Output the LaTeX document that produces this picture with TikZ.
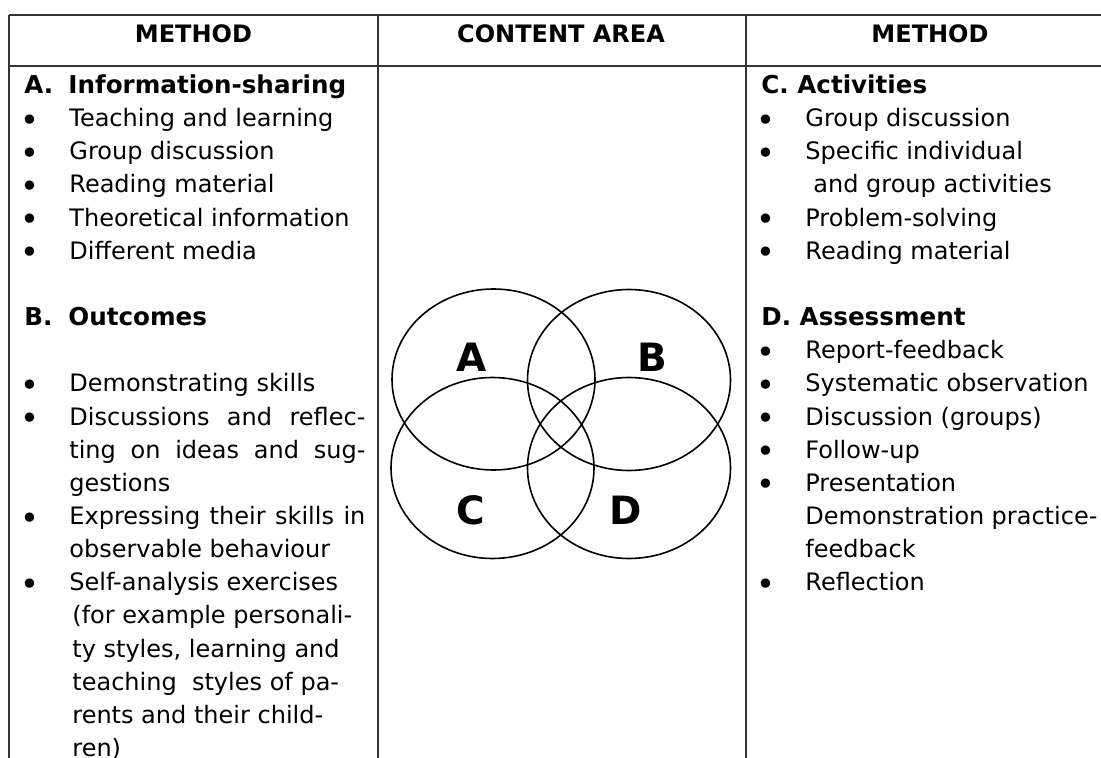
\documentclass[tikz,border=0pt]{standalone}
\usepackage{fontspec}
\setmainfont{DejaVu Sans}
\usetikzlibrary{positioning}

\begin{document}
\begin{tikzpicture}[x=0.5pt, y=-0.5pt,
  rule/.style={draw=black!80, line width=0.7pt},
  ring/.style={draw=black, line width=0.8pt},
  txt/.style={anchor=base west, inner sep=0pt, font=\fontsize{12}{14}\selectfont},
  topic/.style={anchor=base west, inner sep=0pt, font=\fontsize{12.3}{14}\selectfont\bfseries},
  head/.style={anchor=base, inner sep=0pt, font=\fontsize{12}{14}\selectfont\bfseries},
  dot/.style={anchor=base, inner sep=0pt, yshift=-2pt, font=\fontsize{16}{14}\selectfont},
  letter/.style={inner sep=0pt, font=\fontsize{19.5}{20}\selectfont\bfseries}]
\useasboundingbox (0,0) rectangle (1101,758);

% table rules
\draw[rule] (9,15) -- (1101,15);
\draw[rule] (9,66) -- (1101,66);
\draw[rule] (9,15) -- (9,758);
\draw[rule] (378,15) -- (378,758);
\draw[rule] (746,15) -- (746,758);

% header row
\node[head] (h1) at (193.5,43) {METHOD};
\node[head] (h2) at (561,43) {CONTENT AREA};
\node[head] (h3) at (930,43) {METHOD};

% left column
\node[topic] (a0) at (24,93.5) {A.};
\node[topic] (a1) at (68,93.5) {Information-sharing};
\node[dot] (da1) at (30,127.2) {•};
\node[txt] (ta1) at (69,126.65) {Teaching and learning};
\node[dot] (da2) at (30,160.3) {•};
\node[txt] (ta2) at (69,159.8) {Group discussion};
\node[dot] (da3) at (30,193.5) {•};
\node[txt] (ta3) at (69,192.95) {Reading material};
\node[dot] (da4) at (30,226.6) {•};
\node[txt] (ta4) at (69,226.1) {Theoretical information};
\node[dot] (da5) at (30,259.8) {•};
\node[txt] (ta5) at (69,259.25) {Different media};

\node[topic] (b0) at (24,325.55) {B.};
\node[topic] (b1) at (68,325.55) {Outcomes};
\node[dot] (db1) at (30,392.4) {•};
\node[txt] (tb1) at (69,391.85) {Demonstrating skills};
\node[dot] (db2) at (30,425.5) {•};
\node[txt] (tb2) at (69,425) {\makebox[148pt][s]{Discussions and reflec-}};
\node[txt] (tb3) at (69,458.15) {\makebox[148pt][s]{ting on ideas and sug-}};
\node[txt] (tb4) at (69,491.3) {gestions};
\node[dot] (db3) at (30,525) {•};
\node[txt] (tb5) at (69,524.45) {\makebox[148pt][s]{Expressing their skills in}};
\node[txt] (tb6) at (69,557.6) {observable behaviour};
\node[dot] (db4) at (30,591.3) {•};
\node[txt] (tb7) at (69,590.75) {Self-analysis exercises};
\node[txt] (tb8) at (72,623.9) {(for example personali-};
\node[txt] (tb9) at (72,657.05) {ty styles, learning and};
\node[txt] (tb10) at (72,690.2) {teaching\ \ styles of pa-};
\node[txt] (tb11) at (72,723.35) {rents and their child-};
\node[txt] (tb12) at (72,756.5) {ren)};

% content area
\coordinate (cA) at (493.5,379.5);
\coordinate (cB) at (629,380);
\coordinate (cC) at (492.5,468);
\coordinate (cD) at (629,468);
\foreach \c in {cA,cB,cC,cD}
  \draw[ring] (\c) ellipse [x radius=101.5, y radius=90.5];
\node[letter] (lA) at (472,357) {A};
\node[letter] (lB) at (652,357) {B};
\node[letter] (lC) at (471,510) {C};
\node[letter] (lD) at (626,510) {D};

% right column
\node[topic] (c0) at (761,93.5) {C. Activities};
\node[dot] (dc1) at (766,127.2) {•};
\node[txt] (tc1) at (805,126.65) {Group discussion};
\node[dot] (dc2) at (766,160.3) {•};
\node[txt] (tc2) at (805,159.8) {Specific individual};
\node[txt] (tc3) at (813,192.95) {and group activities};
\node[dot] (dc3) at (766,226.6) {•};
\node[txt] (tc4) at (805,226.1) {Problem-solving};
\node[dot] (dc4) at (766,259.8) {•};
\node[txt] (tc5) at (805,259.25) {Reading material};

\node[topic] (d0) at (761,325.55) {D. Assessment};
\node[dot] (dd1) at (766,359.2) {•};
\node[txt] (td1) at (805,358.7) {Report-feedback};
\node[dot] (dd2) at (766,392.4) {•};
\node[txt] (td2) at (805,391.85) {Systematic observation};
\node[dot] (dd3) at (766,425.5) {•};
\node[txt] (td3) at (805,425) {Discussion (groups)};
\node[dot] (dd4) at (766,458.7) {•};
\node[txt] (td4) at (805,458.15) {Follow-up};
\node[dot] (dd5) at (766,491.8) {•};
\node[txt] (td5) at (805,491.3) {Presentation};
\node[txt] (td6) at (805,524.45) {\makebox[146pt][s]{Demonstration practice-}};
\node[txt] (td7) at (805,557.6) {feedback};
\node[dot] (dd6) at (766,591.3) {•};
\node[txt] (td8) at (805,590.75) {Reflection};
\end{tikzpicture}
\end{document}
